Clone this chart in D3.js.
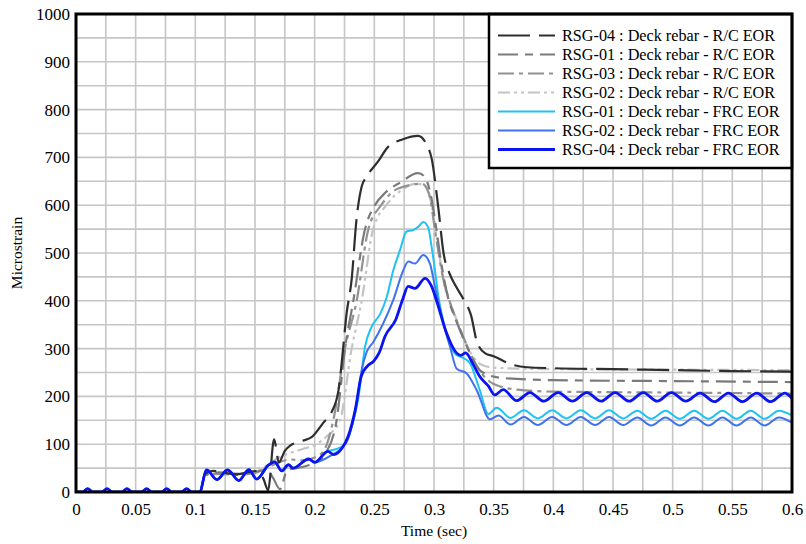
<!DOCTYPE html>
<html>
<head>
<meta charset="utf-8">
<script src="https://cdn.jsdelivr.net/npm/d3@7"></script>
<style>
  html, body { margin: 0; padding: 0; background: #fff; }
  svg { display: block; font-family: "Liberation Serif", "Times New Roman", serif; }
</style>
</head>
<body>
<svg id="chart" width="806" height="544"></svg>
<script>
// Axis ticks
const xTickValues = [0, 0.05, 0.1, 0.15, 0.2, 0.25, 0.3, 0.35, 0.4, 0.45, 0.5, 0.55, 0.6];
const xTickLabels = ["0", "0.05", "0.1", "0.15", "0.2", "0.25", "0.3", "0.35", "0.4", "0.45", "0.5", "0.55", "0.6"];
const yTickValues = [0, 100, 200, 300, 400, 500, 600, 700, 800, 900, 1000];
const yTickLabels = ["0", "100", "200", "300", "400", "500", "600", "700", "800", "900", "1000"];

// Strain gauge records: [time (sec), microstrain]
const restBumps = [
  [0, 0], [0.0056, 0], [0.0098, 7], [0.014, 0], [0.0218, 0], [0.026, 7], [0.0302, 0],
  [0.0385, 0], [0.0427, 7], [0.0469, 0], [0.055, 0], [0.0592, 7], [0.0634, 0],
  [0.0718, 0], [0.076, 7], [0.0802, 0], [0.0885, 0], [0.0927, 7], [0.0969, 0], [0.1035, 0]
];
const frcEarly = [
  [0.1095, 46], [0.118, 26], [0.127, 46], [0.1365, 24], [0.1448, 47], [0.1514, 27],
  [0.1612, 56], [0.1665, 63], [0.1724, 44], [0.178, 57], [0.182, 50], [0.195, 69], [0.2, 62], [0.211, 85]
];

const rsg04Rc = [
  [0, 0], [0.104, 0], [0.108, 38], [0.115, 44], [0.125, 40], [0.135, 37], [0.145, 42], [0.152, 44],
  [0.157, 28], [0.161, 4], [0.166, 110], [0.17, 62], [0.175, 86], [0.18, 98], [0.19, 107], [0.198, 116],
  [0.207, 144], [0.214, 166], [0.22, 213], [0.2226, 269], [0.2268, 374], [0.231, 445], [0.235, 569],
  [0.2394, 639], [0.2436, 660], [0.253, 691], [0.2615, 722], [0.274, 738], [0.2866, 745], [0.294, 726],
  [0.298, 698], [0.3035, 597], [0.308, 500], [0.3134, 455], [0.318, 432], [0.325, 402], [0.331, 370],
  [0.336, 314], [0.343, 290], [0.35, 284], [0.366, 266], [0.378, 261], [0.4, 259], [0.45, 257],
  [0.5, 255], [0.55, 253], [0.6, 252]
];
const rsg01Rc = [
  [0, 0], [0.104, 0], [0.108, 36], [0.12, 41], [0.135, 38], [0.15, 42], [0.16, 46], [0.165, 30],
  [0.171, 6], [0.177, 46], [0.185, 50], [0.192, 54], [0.2017, 63], [0.209, 80], [0.2184, 150],
  [0.2254, 300], [0.2324, 400], [0.2422, 550], [0.25, 598], [0.26, 628], [0.272, 648], [0.2866, 667],
  [0.292, 660], [0.297, 625], [0.302, 550], [0.306, 480], [0.312, 405], [0.318, 362], [0.327, 308],
  [0.336, 262], [0.345, 245], [0.36, 238], [0.4, 234], [0.5, 232], [0.6, 230]
];
const rsg03Rc = [
  [0, 0], [0.104, 0], [0.108, 35], [0.12, 38], [0.135, 36], [0.15, 40], [0.16, 50], [0.17, 62],
  [0.18, 68], [0.19, 66], [0.2, 72], [0.208, 88], [0.2156, 150], [0.2254, 300], [0.2352, 400],
  [0.245, 550], [0.2557, 600], [0.27, 635], [0.29, 645], [0.296, 622], [0.301, 545], [0.307, 455],
  [0.314, 392], [0.322, 340], [0.33, 292], [0.34, 248], [0.35, 226], [0.37, 214], [0.4, 210],
  [0.5, 208], [0.6, 206]
];
const rsg02Rc = [
  [0, 0], [0.104, 0], [0.108, 35], [0.12, 40], [0.135, 38], [0.15, 42], [0.16, 56], [0.17, 72],
  [0.18, 82], [0.19, 90], [0.2, 98], [0.21, 116], [0.2212, 150], [0.231, 300], [0.2394, 400],
  [0.249, 550], [0.26, 600], [0.272, 630], [0.285, 645], [0.293, 640], [0.298, 600], [0.303, 520],
  [0.309, 430], [0.316, 380], [0.325, 322], [0.333, 282], [0.34, 266], [0.35, 260], [0.4, 257],
  [0.5, 256], [0.6, 255]
];
const rsg01FrcLate = [
  [0.2184, 90], [0.2254, 100], [0.231, 137], [0.2366, 196], [0.2422, 304], [0.2478, 346],
  [0.2548, 372], [0.2604, 408], [0.2659, 464], [0.2715, 506], [0.277, 545], [0.2826, 548],
  [0.2868, 555], [0.291, 565], [0.2952, 553], [0.298, 513], [0.3008, 464], [0.3036, 410],
  [0.3065, 372], [0.31, 335], [0.318, 288], [0.324, 281], [0.33, 270], [0.3385, 212], [0.3455, 163],
  [0.3525, 176], [0.3642, 155], [0.3754, 171], [0.387, 154], [0.399, 171], [0.411, 154], [0.423, 171],
  [0.435, 154], [0.4467, 171], [0.4585, 154], [0.4704, 170], [0.482, 153], [0.494, 170], [0.506, 153],
  [0.518, 170], [0.53, 153], [0.5417, 170], [0.5535, 153], [0.5654, 170], [0.577, 153], [0.589, 170],
  [0.6, 160]
];
const rsg02FrcLate = [
  [0.216, 80], [0.2212, 88], [0.229, 118], [0.2338, 165], [0.2394, 255], [0.2436, 293], [0.2492, 314],
  [0.2575, 353], [0.2659, 402], [0.2743, 464], [0.2785, 482], [0.2841, 478], [0.291, 496], [0.2966, 478],
  [0.3008, 430], [0.3036, 400], [0.306, 372], [0.3134, 304], [0.319, 258], [0.3274, 248], [0.3358, 213],
  [0.347, 152], [0.354, 160], [0.3642, 141], [0.3754, 157], [0.387, 140], [0.399, 157], [0.411, 140],
  [0.423, 157], [0.435, 140], [0.4467, 157], [0.4585, 140], [0.4704, 156], [0.482, 139], [0.494, 156],
  [0.506, 139], [0.518, 156], [0.53, 139], [0.5417, 156], [0.5535, 139], [0.5654, 156], [0.577, 139],
  [0.589, 156], [0.6, 145]
];
const rsg04FrcLate = [
  [0.216, 78], [0.223, 92], [0.228, 116], [0.234, 172], [0.239, 242], [0.244, 263], [0.2495, 274],
  [0.254, 291], [0.259, 326], [0.268, 361], [0.274, 405], [0.2783, 430], [0.2841, 426], [0.2925, 447],
  [0.298, 430], [0.3028, 395], [0.3106, 332], [0.3176, 295], [0.3225, 286], [0.3265, 291], [0.333, 266],
  [0.3385, 241], [0.3455, 222], [0.351, 203], [0.358, 214], [0.3692, 191], [0.3804, 208], [0.392, 190],
  [0.404, 208], [0.416, 190], [0.428, 208], [0.44, 190], [0.4517, 208], [0.4635, 190], [0.4754, 208],
  [0.487, 190], [0.499, 208], [0.511, 190], [0.523, 207], [0.535, 189], [0.5467, 207], [0.5585, 189],
  [0.5704, 207], [0.582, 189], [0.594, 207], [0.6, 196]
];

const seriesNames = [
  "RSG-04 : Deck rebar - R/C EOR",
  "RSG-01 : Deck rebar - R/C EOR",
  "RSG-03 : Deck rebar - R/C EOR",
  "RSG-02 : Deck rebar - R/C EOR",
  "RSG-01 : Deck rebar - FRC EOR",
  "RSG-02 : Deck rebar - FRC EOR",
  "RSG-04 : Deck rebar - FRC EOR"
];
const seriesData = [
  rsg04Rc, rsg01Rc, rsg03Rc, rsg02Rc,
  restBumps.concat(frcEarly, rsg01FrcLate),
  restBumps.concat(frcEarly.slice(0, -1), rsg02FrcLate),
  restBumps.concat(frcEarly, rsg04FrcLate)
];
const seriesColors = ["#2e2e2e", "#7a7a7a", "#929292", "#c4c4c4", "#1fc3f2", "#3f73ee", "#0a14f0"];
const seriesDash = ["32,9", "20,7,8,7", "16,5,4,5", "12,4,3,4,3,4", null, null, null];
const seriesWidth = [2.2, 2.2, 2.2, 2.2, 2, 2, 2.8];
// drawing order: lightest grey first, deep blue last
const drawOrder = [3, 2, 1, 0, 4, 5, 6];

const svg = d3.select("#chart");
const plotLeft = 76, plotRight = 792, plotTop = 14, plotBottom = 492;

const x = d3.scaleLinear().domain([0, 0.6]).range([plotLeft, plotRight]);
const y = d3.scaleLinear().domain([0, 1000]).range([plotBottom, plotTop]);

// Grid
const gridX = d3.range(0, 0.6001, 0.025);
const gridY = d3.range(0, 1000.1, 50);
const grid = svg.append("g");
grid.selectAll("line.gx").data(gridX).join("line")
  .attr("x1", d => x(d)).attr("x2", d => x(d)).attr("y1", plotTop).attr("y2", plotBottom)
  .attr("stroke", "#c6c6c6").attr("stroke-width", 1.6);
grid.selectAll("line.gy").data(gridY).join("line")
  .attr("y1", d => y(d)).attr("y2", d => y(d)).attr("x1", plotLeft).attr("x2", plotRight)
  .attr("stroke", "#c6c6c6").attr("stroke-width", 1.6);

// Axis labels
const xAxis = d3.axisBottom(x).tickValues(xTickValues)
  .tickFormat((d, i) => xTickLabels[i]).tickSize(0).tickPadding(11);
svg.append("g").attr("transform", `translate(0,${plotBottom})`).call(xAxis)
  .call(g => g.select(".domain").remove())
  .selectAll("text").attr("font-family", "Liberation Serif, serif").attr("font-size", 17).attr("fill", "#000");

const yAxis = d3.axisLeft(y).tickValues(yTickValues)
  .tickFormat((d, i) => yTickLabels[i]).tickSize(0).tickPadding(6);
svg.append("g").attr("transform", `translate(${plotLeft},0)`).call(yAxis)
  .call(g => g.select(".domain").remove())
  .selectAll("text").attr("font-family", "Liberation Serif, serif").attr("font-size", 17).attr("fill", "#000");

svg.append("text").attr("x", (plotLeft + plotRight) / 2).attr("y", 536)
  .attr("text-anchor", "middle").attr("font-size", 15.5).text("Time (sec)");
svg.append("text").attr("transform", `translate(22,${(plotTop + plotBottom) / 2}) rotate(-90)`)
  .attr("text-anchor", "middle").attr("font-size", 15.5).text("Microstrain");

// Series
svg.append("clipPath").attr("id", "plotClip").append("rect")
  .attr("x", plotLeft).attr("y", plotTop).attr("width", plotRight - plotLeft).attr("height", plotBottom - plotTop);
const line = d3.line().x(d => x(d[0])).y(d => y(d[1])).curve(d3.curveMonotoneX);
const lines = svg.append("g").attr("clip-path", "url(#plotClip)");
drawOrder.forEach(i => {
  lines.append("path")
    .attr("d", line(seriesData[i]))
    .attr("fill", "none")
    .attr("stroke", seriesColors[i])
    .attr("stroke-width", seriesWidth[i])
    .attr("stroke-dasharray", seriesDash[i])
    .attr("stroke-linejoin", "round");
});

// Legend
const lg = svg.append("g");
lg.append("rect").attr("x", 489).attr("y", 14).attr("width", 303).attr("height", 154)
  .attr("fill", "#fff").attr("stroke", "#000").attr("stroke-width", 2.5);
seriesNames.forEach((name, i) => {
  const ly = 35.5 + i * 19;
  lg.append("line").attr("x1", 498).attr("x2", 555).attr("y1", ly).attr("y2", ly)
    .attr("stroke", seriesColors[i]).attr("stroke-width", seriesWidth[i])
    .attr("stroke-dasharray", seriesDash[i]);
  lg.append("text").attr("x", 562).attr("y", ly + 5.5).attr("font-size", 16.2).text(name);
});

// Frame
svg.append("rect").attr("x", plotLeft).attr("y", plotTop).attr("width", plotRight - plotLeft).attr("height", plotBottom - plotTop)
  .attr("fill", "none").attr("stroke", "#000").attr("stroke-width", 3);
</script>
</body>
</html>
